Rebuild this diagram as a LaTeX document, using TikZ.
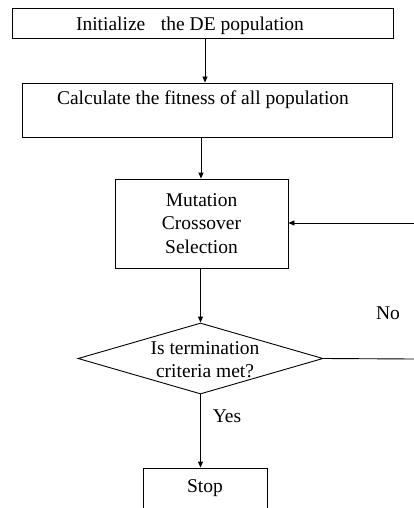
\documentclass[tikz,border=0pt]{standalone}
\usepackage{fontspec}
\setmainfont{Liberation Serif}
\usetikzlibrary{shapes.geometric,arrows.meta}
\begin{document}
\begin{tikzpicture}[x=1pt,y=-1pt,
  every node/.style={font=\fontsize{19.5}{23.5}\selectfont},
  stepbox/.style={draw,line width=0.9pt,rectangle,inner sep=0pt},
  decision/.style={draw,line width=0.9pt,diamond,inner sep=0pt,align=center},
  plain/.style={inner sep=0pt,align=center},
  flow/.style={line width=0.9pt,-{Triangle[length=6pt,width=5pt]}},
  link/.style={line width=0.9pt}]
\useasboundingbox (0,0) rectangle (414,508);
\clip (0,0) rectangle (414,508);

% process boxes
\node[stepbox,minimum width=381,minimum height=30] (init) at (202.5,23) {};
\node[plain] (inittext) at (190,26) {Initialize\hspace{0.8em}the DE population};
\node[stepbox,minimum width=370,minimum height=54] (fit) at (207,110) {};
\node[plain] (fittext) at (203,100) {Calculate the fitness of all population};
\node[stepbox,minimum width=173,minimum height=89,align=center] (ops) at (201.5,223.5)
  {Mutation\\Crossover\\Selection};

% decision
\node[decision,minimum width=245,minimum height=71] (check) at (200.5,358.5) {};
\node[plain] (checktext) at (205,359.5) {Is termination\\criteria met?};

% stop box, running past the lower edge
\node[stepbox,minimum width=124,minimum height=60] (stop) at (205,498) {};
\node[plain] (stoptext) at (205,488) {Stop};

% loop-back ends at the right edge
\coordinate (backin) at (414,223);
\coordinate (backout) at (414,359);

% connectors
\draw[flow] (init.south -| 205,0) -- (fit.north -| 205,0);
\draw[flow] (fit.south -| 201,0) -- (ops.north -| 201,0);
\draw[flow] (ops.south -| check.north) -- (check.north);
\draw[flow] (check.south) -- (stop.north -| check.south);
\draw[link] (check.east) -- (backout);
\draw[flow] (backin) -- (ops.east |- backin);

% branch labels
\node[plain] (nolabel) at (388,313) {No};
\node[plain] (yeslabel) at (227,416) {Yes};
\end{tikzpicture}
\end{document}
